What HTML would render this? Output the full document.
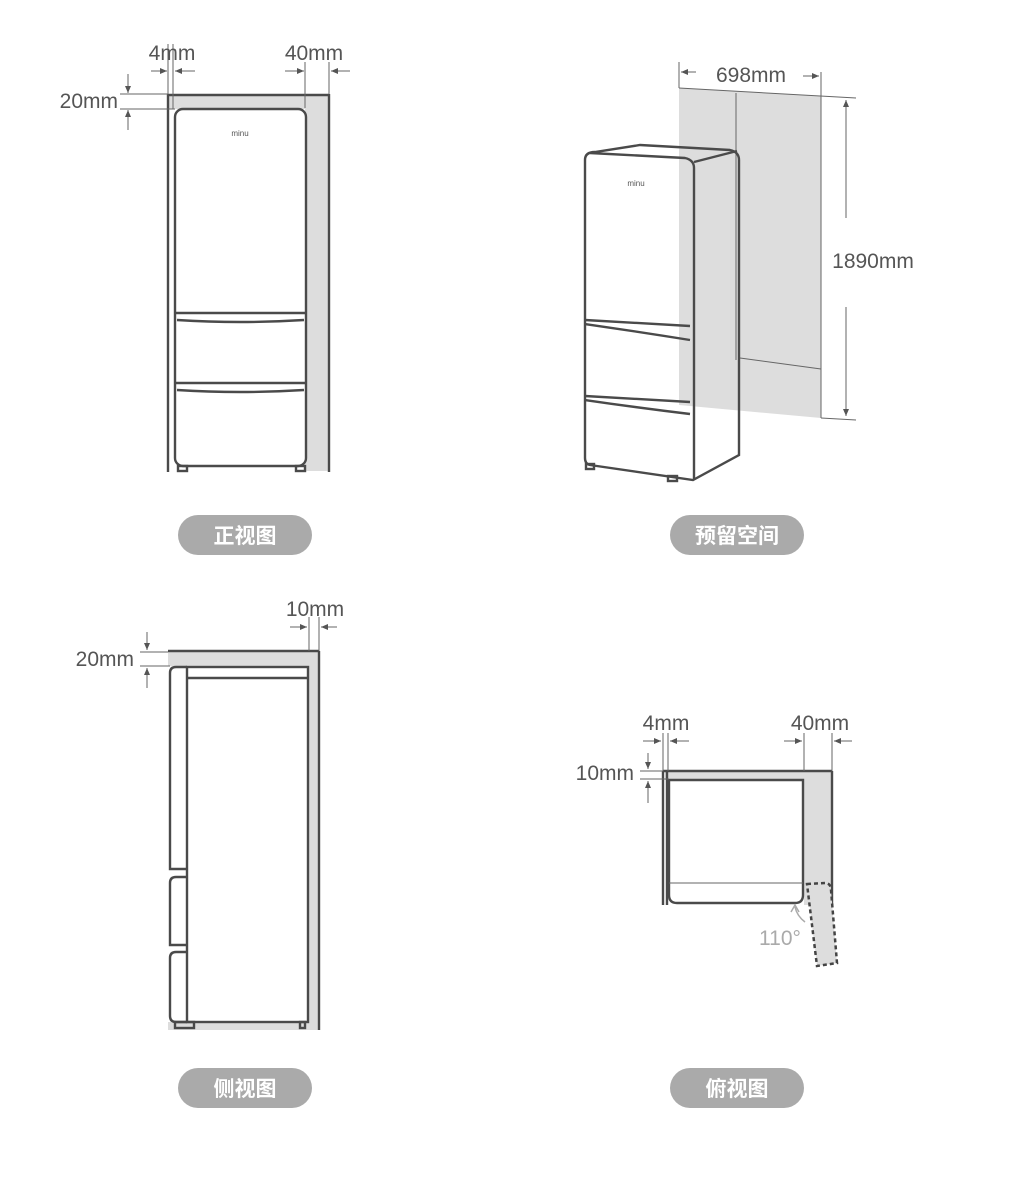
<!DOCTYPE html>
<html><head><meta charset="utf-8"><style>
body{margin:0;background:#fff;width:1012px;height:1182px;overflow:hidden}
svg{display:block}
text{font-family:"Liberation Sans","Noto Sans CJK SC",sans-serif;fill:#555}
.p{fill:#aaa}
.pt{fill:#fff;font-weight:bold;font-size:21px}
.l{stroke:#4a4a4a;stroke-width:2.4;fill:none}
.t{stroke:#666;stroke-width:1;fill:none}
</style></head><body>
<svg width="1012" height="1182" viewBox="0 0 1012 1182">
<defs><marker id="a" markerWidth="8" markerHeight="8" refX="7" refY="4" orient="auto" markerUnits="userSpaceOnUse"><path d="M0,1 L7,4 L0,7 z" fill="#555"/></marker></defs>

<!-- FRONT VIEW -->
<rect x="169" y="95" width="160" height="14" fill="#ddd"/>
<rect x="305" y="108" width="24" height="363" fill="#ddd"/>
<line class="l" x1="168" y1="94" x2="168" y2="472"/>
<line class="l" x1="329" y1="94" x2="329" y2="472"/>
<line class="l" x1="168" y1="95" x2="329" y2="95"/>
<rect class="l" x="175" y="109" width="131" height="357" rx="8" fill="#fff"/>
<path class="l" d="M175 313 H306 M177 320 Q240 324 304 320"/>
<path class="l" d="M175 383 H306 M177 390 Q240 394 304 390"/>
<rect class="l" x="178" y="466" width="9" height="5"/><rect class="l" x="296" y="466" width="9" height="5"/>
<text x="240" y="136" font-size="8" text-anchor="middle" fill="#666">minu</text>
<line class="t" x1="173" y1="44" x2="173" y2="109"/><line class="t" x1="168" y1="44" x2="168" y2="94"/>
<line class="t" x1="151" y1="71" x2="167" y2="71" marker-end="url(#a)"/><line class="t" x1="195" y1="71" x2="175" y2="71" marker-end="url(#a)"/>
<text x="172" y="60" font-size="21" text-anchor="middle">4mm</text>
<line class="t" x1="305" y1="62" x2="305" y2="108"/><line class="t" x1="329" y1="62" x2="329" y2="94"/>
<line class="t" x1="285" y1="71" x2="304" y2="71" marker-end="url(#a)"/><line class="t" x1="350" y1="71" x2="331" y2="71" marker-end="url(#a)"/>
<text x="314" y="60" font-size="21" text-anchor="middle">40mm</text>
<line class="t" x1="120" y1="94" x2="168" y2="94"/><line class="t" x1="120" y1="109" x2="175" y2="109"/>
<line class="t" x1="128" y1="74" x2="128" y2="93" marker-end="url(#a)"/><line class="t" x1="128" y1="130" x2="128" y2="110" marker-end="url(#a)"/>
<text x="118" y="108" font-size="21" text-anchor="end">20mm</text>

<!-- PERSPECTIVE -->
<polygon points="679,88 821,96 821,418 679,405" fill="#ddd"/>
<line class="t" x1="736" y1="93" x2="736" y2="360"/>
<line class="t" x1="740" y1="358" x2="821" y2="369"/>
<line class="t" x1="679" y1="88" x2="856" y2="98"/>
<line class="t" x1="821" y1="418" x2="856" y2="420"/>
<line class="t" x1="821" y1="72" x2="821" y2="418"/>
<line class="t" x1="679" y1="62" x2="679" y2="88"/>
<line class="t" x1="696" y1="72" x2="681" y2="72" marker-end="url(#a)"/><line class="t" x1="803" y1="76" x2="819" y2="76" marker-end="url(#a)"/>
<text x="751" y="82" font-size="21" text-anchor="middle">698mm</text>
<line class="t" x1="846" y1="218" x2="846" y2="100" marker-end="url(#a)"/><line class="t" x1="846" y1="307" x2="846" y2="416" marker-end="url(#a)"/>
<text x="873" y="268" font-size="21" text-anchor="middle">1890mm</text>
<path class="l" fill="#fff" d="M585 160 Q585 152 595 152 L640 145 L730 150 Q739 152 739 160 L739 455 L693 480 L590 465 Q585 464 585 458 Z"/>
<path class="l" d="M590 153 L685 158 Q694 160 694 168 L694 480 M694 162 L737 151"/>
<path class="l" d="M585 320 L690 326 M585 324 Q640 332 690 340"/>
<path class="l" d="M585 396 L690 402 M585 400 Q640 408 690 414"/>
<rect class="l" x="586" y="464" width="8" height="5"/><rect class="l" x="668" y="476" width="9" height="5"/>
<text x="636" y="186" font-size="8" text-anchor="middle" fill="#666">minu</text>

<!-- SIDE VIEW -->
<rect x="168" y="651" width="150" height="15" fill="#ddd"/>
<rect x="309" y="651" width="9" height="379" fill="#ddd"/>
<rect x="168" y="1022" width="150" height="8" fill="#ddd"/>
<line class="l" x1="168" y1="651" x2="319" y2="651"/>
<line class="l" x1="319" y1="651" x2="319" y2="1030"/>
<rect class="l" x="187" y="667" width="121" height="355" fill="#fff"/>
<line class="l" x1="187" y1="678" x2="308" y2="678"/>
<path class="l" fill="#fff" d="M187 667 H176 Q170 667 170 673 V869 H187"/>
<path class="l" fill="#fff" d="M187 877 H176 Q170 877 170 883 V945 H187"/>
<path class="l" fill="#fff" d="M187 952 H176 Q170 952 170 958 V1016 Q170 1022 176 1022 H187"/>
<rect class="l" x="175" y="1022" width="19" height="6"/><rect class="l" x="300" y="1022" width="5" height="6"/>
<line class="t" x1="309" y1="617" x2="309" y2="651"/><line class="t" x1="319" y1="617" x2="319" y2="651"/>
<line class="t" x1="290" y1="627" x2="307" y2="627" marker-end="url(#a)"/><line class="t" x1="337" y1="627" x2="321" y2="627" marker-end="url(#a)"/>
<text x="315" y="616" font-size="21" text-anchor="middle">10mm</text>
<line class="t" x1="140" y1="652" x2="168" y2="652"/><line class="t" x1="140" y1="666" x2="170" y2="666"/>
<line class="t" x1="147" y1="632" x2="147" y2="650" marker-end="url(#a)"/><line class="t" x1="147" y1="688" x2="147" y2="668" marker-end="url(#a)"/>
<text x="134" y="666" font-size="21" text-anchor="end">20mm</text>

<!-- TOP VIEW -->
<rect x="665" y="771" width="167" height="9" fill="#ddd"/>
<rect x="804" y="771" width="28" height="134" fill="#ddd"/>
<line class="l" x1="663" y1="771" x2="832" y2="771"/>
<line class="l" x1="663" y1="771" x2="663" y2="905"/>
<line class="l" x1="667" y1="771" x2="667" y2="905"/>
<line class="l" x1="832" y1="771" x2="832" y2="905"/>
<path class="l" fill="#fff" d="M669 780 H803 V895 Q803 903 795 903 H677 Q669 903 669 895 Z"/>
<line class="t" x1="669" y1="883" x2="803" y2="883"/>
<path d="M807 884 L826 883 Q831 884 831 890 L837 963 L817 966 Z" fill="#ddd" stroke="#444" stroke-width="2.5" stroke-dasharray="4,3"/>
<path d="M805 922 Q797 916 795 907" stroke="#aaa" stroke-width="1.5" fill="none"/>
<path d="M791 912 L795 905 L799 912" stroke="#aaa" stroke-width="1.5" fill="none"/>
<text x="780" y="945" font-size="21" text-anchor="middle" style="fill:#aaa">110°</text>
<line class="t" x1="663" y1="733" x2="663" y2="771"/><line class="t" x1="668" y1="733" x2="668" y2="771"/>
<line class="t" x1="643" y1="741" x2="661" y2="741" marker-end="url(#a)"/><line class="t" x1="689" y1="741" x2="670" y2="741" marker-end="url(#a)"/>
<text x="666" y="730" font-size="21" text-anchor="middle">4mm</text>
<line class="t" x1="804" y1="733" x2="804" y2="771"/><line class="t" x1="832" y1="733" x2="832" y2="771"/>
<line class="t" x1="784" y1="741" x2="802" y2="741" marker-end="url(#a)"/><line class="t" x1="852" y1="741" x2="834" y2="741" marker-end="url(#a)"/>
<text x="820" y="730" font-size="21" text-anchor="middle">40mm</text>
<line class="t" x1="640" y1="771" x2="663" y2="771"/><line class="t" x1="640" y1="779" x2="669" y2="779"/>
<line class="t" x1="648" y1="753" x2="648" y2="769" marker-end="url(#a)"/><line class="t" x1="648" y1="803" x2="648" y2="781" marker-end="url(#a)"/>
<text x="634" y="780" font-size="21" text-anchor="end">10mm</text>

<!-- PILLS -->
<rect class="p" x="178" y="515" width="134" height="40" rx="20"/>
<text class="pt" x="245" y="543" text-anchor="middle">正视图</text>
<rect class="p" x="670" y="515" width="134" height="40" rx="20"/>
<text class="pt" x="737" y="543" text-anchor="middle">预留空间</text>
<rect class="p" x="178" y="1068" width="134" height="40" rx="20"/>
<text class="pt" x="245" y="1096" text-anchor="middle">侧视图</text>
<rect class="p" x="670" y="1068" width="134" height="40" rx="20"/>
<text class="pt" x="737" y="1096" text-anchor="middle">俯视图</text>
</svg>
</body></html>
